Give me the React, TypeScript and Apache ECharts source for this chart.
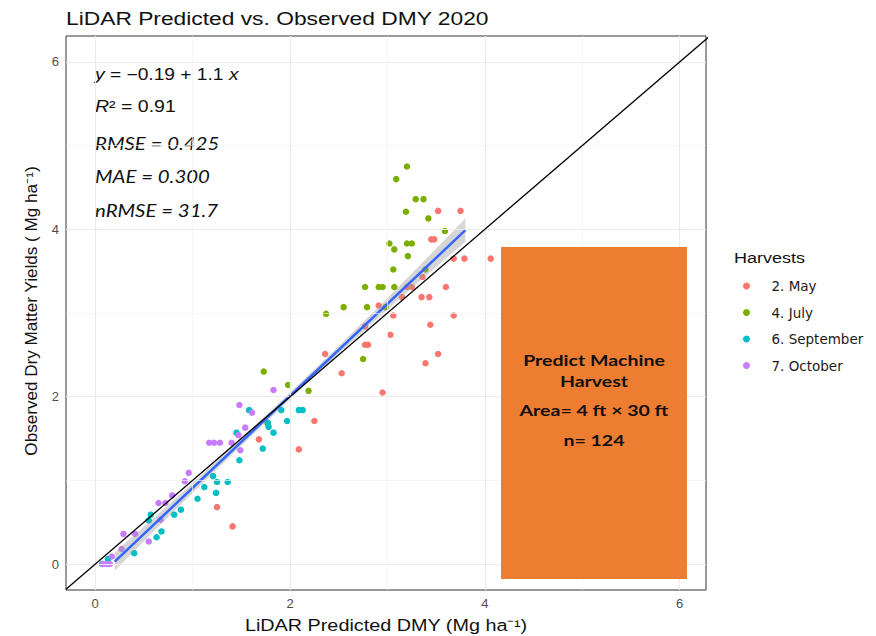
import React, { useEffect, useRef } from "react";
import * as echarts from "echarts";

// Harvest groups and their colours
const harvests = ["2. May", "4. July", "6. September", "7. October"];
const harvestColors = ["#F8766D", "#7CAE00", "#00BFC4", "#C77CFF"];

// [LiDAR predicted DMY, observed DMY] in Mg/ha
const mayPoints: [number, number][] = [
  [3.52, 4.22], [3.75, 4.22], [3.45, 3.88], [3.48, 3.88], [3.68, 3.65],
  [3.79, 3.65], [4.06, 3.65], [3.36, 3.43], [3.6, 3.31], [3.2, 3.31],
  [3.25, 3.31], [3.15, 3.19], [3.35, 3.19], [3.43, 3.19], [2.91, 3.09],
  [3.06, 2.97], [3.68, 2.97], [3.44, 2.86], [2.77, 2.84], [3.03, 2.74],
  [2.77, 2.62], [2.8, 2.62], [3.52, 2.51], [2.36, 2.51], [2.53, 2.28],
  [3.39, 2.4], [2.95, 2.05], [2.25, 1.71], [1.68, 1.49], [2.09, 1.37],
  [1.25, 0.68], [1.41, 0.45],
];
const julyPoints: [number, number][] = [
  [3.2, 4.75], [3.09, 4.6], [3.29, 4.36], [3.37, 4.36], [3.19, 4.21],
  [3.42, 4.13], [3.59, 3.98], [3.02, 3.83], [3.2, 3.83], [3.25, 3.83],
  [3.07, 3.76], [3.21, 3.68], [3.06, 3.52], [3.39, 3.52], [2.77, 3.31],
  [2.91, 3.31], [2.95, 3.31], [3.07, 3.31], [2.55, 3.07], [2.79, 3.07],
  [2.98, 3.07], [2.75, 2.45], [2.37, 2.99], [1.73, 2.3], [1.98, 2.14],
  [2.19, 2.07], [1.77, 1.68],
];
const septemberPoints: [number, number][] = [
  [0.07, 0.0], [0.13, 0.06], [0.4, 0.13], [0.63, 0.32], [0.68, 0.39],
  [0.55, 0.52], [0.57, 0.59], [0.81, 0.59], [0.88, 0.65], [1.05, 0.78],
  [1.24, 0.85], [1.12, 0.92], [1.25, 0.98], [1.36, 0.98], [1.21, 1.05],
  [1.48, 1.24], [1.72, 1.38], [1.45, 1.57], [1.83, 1.57], [1.78, 1.64],
  [1.77, 1.69], [1.97, 1.71], [1.58, 1.84], [1.91, 1.84], [2.09, 1.84],
  [2.13, 1.84],
];
const octoberPoints: [number, number][] = [
  [0.12, 0.0], [0.15, 0.0], [0.08, 0.0], [0.17, 0.09], [0.27, 0.18],
  [0.29, 0.36], [0.41, 0.36], [0.55, 0.27], [0.67, 0.53], [0.65, 0.73],
  [0.72, 0.73], [0.79, 0.82], [0.92, 0.99], [0.96, 1.09], [1.17, 1.45],
  [1.22, 1.45], [1.28, 1.45], [1.4, 1.45], [1.49, 1.36], [1.47, 1.54],
  [1.54, 1.63], [1.61, 1.81], [1.48, 1.9], [1.83, 2.08],
];
const groupPoints = [mayPoints, julyPoints, septemberPoints, octoberPoints];

// Fitted line y = -0.19 + 1.1 x and its confidence band half-widths
const fitIntercept = -0.19;
const fitSlope = 1.1;
const fitRange = [0.2, 3.8];
const bandX = [0.2, 0.6, 1.0, 1.5, 2.0, 2.5, 3.0, 3.4, 3.8];
const bandHalf = [0.11, 0.08, 0.06, 0.045, 0.04, 0.045, 0.07, 0.1, 0.14];

// Axis limits and ticks
const xMin = -0.3;
const xMax = 6.27;
const yMin = -0.31;
const yMax = 6.31;
const majorTicks = [0, 2, 4, 6];
const minorTicks = [1, 3, 5];

const titleText = "LiDAR Predicted vs. Observed DMY 2020";
const xName = "LiDAR Predicted DMY (Mg ha\u207b\u00b9)";
const yName = "Observed Dry Matter Yields ( Mg ha\u207b\u00b9)";
const statLines = ["RMSE = 0.425", "MAE = 0.300", "nRMSE = 31.7"];
const boxLines = ["Predict Machine", "Harvest", "Area= 4 ft \u00d7 30 ft", "n= 124"];

const SANS = "'Liberation Sans', Arial, sans-serif";
const CAL = "Lato, 'Open Sans', sans-serif";
const WIDE = 1.2; // horizontal stretch of the lettering

export default function App() {
  const ref = useRef<HTMLDivElement>(null);

  useEffect(() => {
    document.body.style.margin = "0";
    if (!ref.current) return;
    const chart = echarts.init(ref.current, undefined, { renderer: "svg" });

    const gridMajor = { color: "#EBEBEB", width: 1.2, type: "solid" };
    const gridMinor = { color: "#F2F2F2", width: 0.7, type: "solid" };

    const scatterSeries = harvests.map((name, i) => ({
      name,
      type: "scatter",
      data: groupPoints[i],
      symbolSize: 6.5,
      itemStyle: { color: harvestColors[i], opacity: 1 },
      z: 2,
      silent: true,
    }));

    const label = (x: number, y: number, text: string, style: any, extra: any = {}) => ({
      type: "text",
      x,
      y,
      scaleX: WIDE,
      silent: true,
      ...extra,
      style: { text, fill: "#111", verticalAlign: "middle", ...style },
    });

    const option: any = {
      animation: false,
      backgroundColor: "#fff",
      grid: {
        left: 66,
        right: 170,
        top: 36,
        bottom: 46,
        show: true,
        borderColor: "#333",
        borderWidth: 1,
        backgroundColor: "transparent",
      },
      legend: {
        orient: "vertical",
        left: 738,
        top: 274,
        icon: "circle",
        itemWidth: 40,
        itemHeight: 7,
        itemGap: 12.5,
        data: harvests,
        textStyle: { fontFamily: "'DejaVu Sans', sans-serif", fontSize: 13.5, color: "#1a1a1a" },
        selectedMode: false,
      },
      xAxis: {
        type: "value",
        min: xMin,
        max: xMax,
        axisLine: { show: false },
        axisTick: { show: true, customValues: majorTicks, length: 4, lineStyle: { color: "#333" } },
        axisLabel: { customValues: majorTicks, color: "#4D4D4D", fontSize: 13, fontFamily: SANS, margin: 7 },
        splitLine: { show: false },
      },
      yAxis: {
        type: "value",
        min: yMin,
        max: yMax,
        axisLine: { show: false },
        axisTick: { show: true, customValues: majorTicks, length: 4, lineStyle: { color: "#333" } },
        axisLabel: { customValues: majorTicks, color: "#4D4D4D", fontSize: 13, fontFamily: SANS, margin: 7 },
        splitLine: { show: false },
      },
      series: [
        {
          type: "line",
          data: [],
          silent: true,
          z: 0,
          markLine: {
            silent: true,
            symbol: ["none", "none"],
            label: { show: false },
            emphasis: { disabled: true },
            data: [
              ...minorTicks.map((v) => ({ xAxis: v, lineStyle: gridMinor })),
              ...minorTicks.map((v) => ({ yAxis: v, lineStyle: gridMinor })),
              ...majorTicks.map((v) => ({ xAxis: v, lineStyle: gridMajor })),
              ...majorTicks.map((v) => ({ yAxis: v, lineStyle: gridMajor })),
            ],
          },
        },
        ...scatterSeries,
        {
          type: "custom",
          silent: true,
          z: 3,
          data: [[0, 0]],
          renderItem: (_params: any, api: any) => {
            const upper = bandX.map((x, i) => api.coord([x, fitIntercept + fitSlope * x + bandHalf[i]]));
            const lower = bandX
              .map((x, i) => api.coord([x, fitIntercept + fitSlope * x - bandHalf[i]]))
              .reverse();
            return {
              type: "polygon",
              shape: { points: [...upper, ...lower] },
              style: { fill: "rgba(153,153,153,0.4)" },
            };
          },
        },
        {
          type: "line",
          silent: true,
          z: 4,
          symbol: "none",
          data: fitRange.map((x) => [x, fitIntercept + fitSlope * x]),
          lineStyle: { color: "#3366FF", width: 2.5 },
        },
        {
          type: "line",
          silent: true,
          z: 5,
          symbol: "none",
          clip: true,
          data: [
            [xMin, xMin],
            [yMax, yMax],
          ],
          lineStyle: { color: "#000", width: 1.3 },
        },
      ],
      graphic: [
        label(66, 18, titleText, { fontFamily: SANS, fontSize: 19 }),
        label(386, 626, xName, { fontFamily: SANS, fontSize: 16.5, align: "center" }),
        label(
          32,
          311,
          yName,
          { fontFamily: SANS, fontSize: 16, align: "center" },
          { rotation: Math.PI / 2, scaleX: 1.07 }
        ),
        label(95, 75, "{i|y} = \u22120.19 + 1.1 {i|x}", {
          fontFamily: SANS,
          fontSize: 16,
          rich: { i: { fontStyle: "italic", fontFamily: SANS, fontSize: 16, fill: "#111" } },
        }),
        label(95, 107, "{i|R}\u00b2 = 0.91", {
          fontFamily: SANS,
          fontSize: 16,
          rich: { i: { fontStyle: "italic", fontFamily: SANS, fontSize: 16, fill: "#111" } },
        }, { scaleX: 1.22 }),
        ...statLines.map((t, i) =>
          label(95, 143 + i * 33.5, t, { fontFamily: CAL, fontStyle: "italic", fontSize: 17 })
        ),
        label(734, 258, "Harvests", { fontFamily: SANS, fontSize: 15 }),
        {
          type: "rect",
          shape: { x: 501, y: 247, width: 186, height: 332 },
          style: { fill: "#ED7D31" },
          z: 10,
        },
        ...boxLines.map((t, i) =>
          label(
            594,
            [360, 381, 410, 440][i],
            t,
            { fontFamily: CAL, fontWeight: "bold", fontSize: 15.5, align: "center" },
            { z: 11, scaleX: 1.26 }
          )
        ),
      ],
    };

    chart.setOption(option);
    return () => chart.dispose();
  }, []);

  return <div ref={ref} style={{ width: 876, height: 636 }} />;
}
